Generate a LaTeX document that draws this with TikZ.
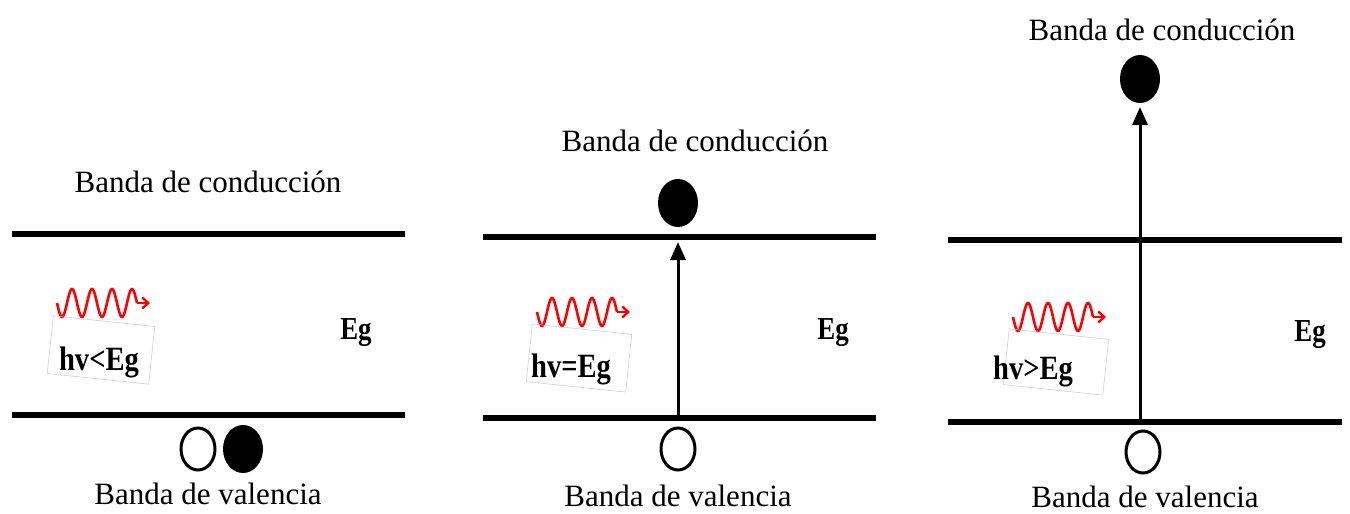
\documentclass[tikz,border=0pt]{standalone}
\usepackage{fontspec}
\setmainfont{Liberation Serif}
\usetikzlibrary{arrows.meta,shapes.geometric}
\newcommand{\cond}[1]{\scalebox{0.84}[1]{#1}}
\begin{document}
\begin{tikzpicture}[x=1pt,y=-1pt,
  band/.style={line width=6pt},
  lbl/.style={font=\fontsize{31}{36}\selectfont, inner sep=0pt},
  eg/.style={font=\bfseries\fontsize{32}{36}\selectfont, inner sep=0pt},
  hvtext/.style={font=\bfseries\fontsize{34}{38}\selectfont, inner sep=0pt},
  hvbox/.style={draw=black!22, line width=0.5pt, rotate=-6, inner sep=0pt},
  hole/.style={ellipse, draw, line width=3pt, minimum width=34pt, minimum height=42pt, inner sep=0pt},
  elec/.style={ellipse, fill, minimum width=40pt, minimum height=48pt, inner sep=0pt},
  jump/.style={line width=3pt, -{Triangle[length=18pt,width=15pt]}},
  wave/.style={red, line width=2.6pt},
  wavetip/.style={-{Straight Barb[length=6pt,width=11pt,line width=2.4pt]}}
]
\useasboundingbox (0,0) rectangle (1350,514);

% ---------------- Panel 1 ----------------
\coordinate (t1l) at (12,234); \coordinate (t1r) at (405,234);
\coordinate (b1l) at (12,415); \coordinate (b1r) at (405,415);
\draw[band] (t1l) -- (t1r);
\draw[band] (b1l) -- (b1r);
\node[lbl] (cb1) at (208,182) {Banda de conducción};
\node[lbl] (vb1) at (208,494) {Banda de valencia};
\node[hole] (h1) at (198,449) {};
\node[elec] (e1) at (243,449) {};
\node[eg] (eg1) at (356,333) {\cond{Eg}};
\draw[wave] plot[domain=0:80,samples=120] ({57+\x},{303+14*sin(18*\x)});
\coordinate (w1e) at (137,303); \coordinate (w1t) at (150,303);
\draw[wave,wavetip] (w1e) -- (w1t);
\node[hvbox, minimum width=102pt, minimum height=58pt] (bx1) at (101,350) {};
\node[hvtext] (hv1) at (99,362) {\cond{hv<Eg}};

% ---------------- Panel 2 ----------------
\coordinate (t2l) at (483,237); \coordinate (t2r) at (876,237);
\coordinate (b2l) at (483,418); \coordinate (b2r) at (876,418);
\draw[band] (t2l) -- (t2r);
\draw[band] (b2l) -- (b2r);
\node[lbl] (cb2) at (695,141) {Banda de conducción};
\node[lbl] (vb2) at (678,496) {Banda de valencia};
\node[elec] (e2) at (678,203) {};
\node[hole] (h2) at (678,449) {};
\coordinate (s2) at (678,416);
\coordinate (a2) at (678,242);
\draw[jump] (s2) -- (a2);
\node[eg] (eg2) at (833,333) {\cond{Eg}};
\draw[wave] plot[domain=0:80,samples=120] ({537+\x},{312+14*sin(18*\x)});
\coordinate (w2e) at (617,312); \coordinate (w2t) at (630,312);
\draw[wave,wavetip] (w2e) -- (w2t);
\node[hvbox, minimum width=100pt, minimum height=58pt] (bx2) at (579,358) {};
\node[hvtext] (hv2) at (571,369) {\cond{hv=Eg}};

% ---------------- Panel 3 ----------------
\coordinate (t3l) at (948,240); \coordinate (t3r) at (1342,240);
\coordinate (b3l) at (948,422); \coordinate (b3r) at (1342,422);
\draw[band] (t3l) -- (t3r);
\draw[band] (b3l) -- (b3r);
\node[lbl] (cb3) at (1162,30) {Banda de conducción};
\node[lbl] (vb3) at (1145,497) {Banda de valencia};
\node[elec] (e3) at (1140,79) {};
\node[hole] (h3) at (1143,452) {};
\coordinate (s3) at (1140,420);
\coordinate (a3) at (1140,107);
\draw[jump] (s3) -- (a3);
\node[eg] (eg3) at (1310,335) {\cond{Eg}};
\draw[wave] plot[domain=0:80,samples=120] ({1013+\x},{317+14*sin(18*\x)});
\coordinate (w3e) at (1093,317); \coordinate (w3t) at (1106,317);
\draw[wave,wavetip] (w3e) -- (w3t);
\node[hvbox, minimum width=100pt, minimum height=56pt] (bx3) at (1056,362) {};
\node[hvtext] (hv3) at (1033,371) {\cond{hv>Eg}};
\end{tikzpicture}
\end{document}
